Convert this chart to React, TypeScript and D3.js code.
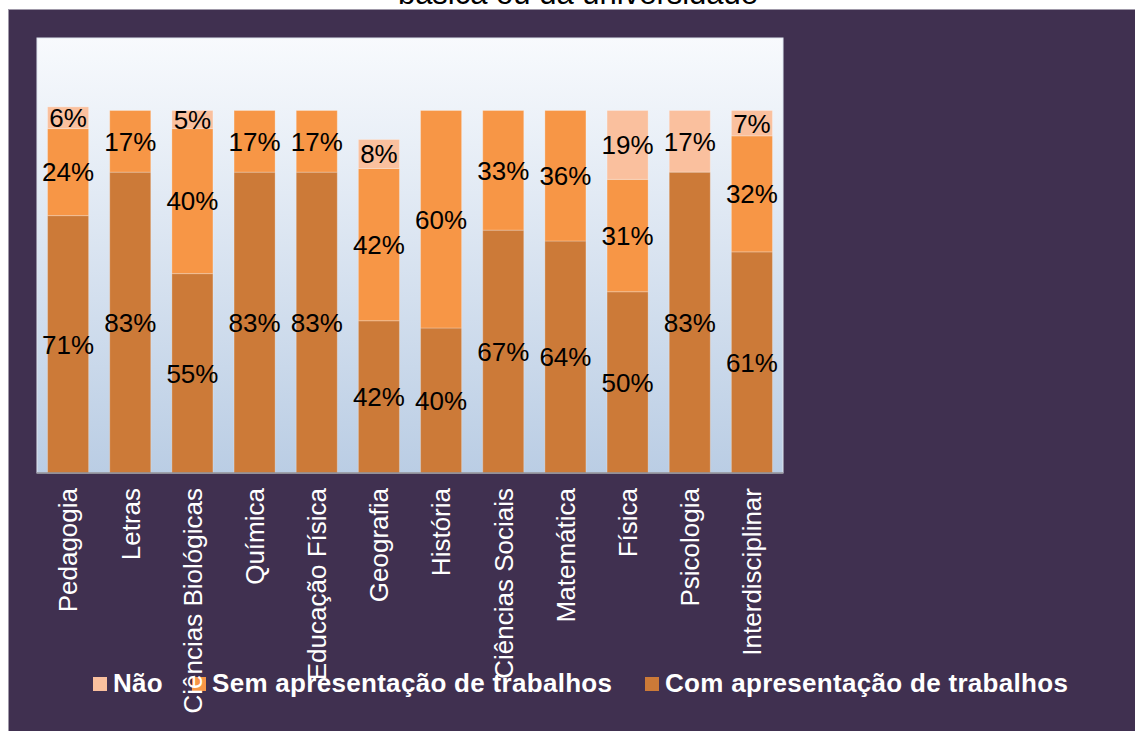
import React from "react";
import * as d3 from "d3";

// data
const categories = [
  "Pedagogia", "Letras", "Ciências Biológicas", "Química", "Educação Física", "Geografia",
  "História", "Ciências Sociais", "Matemática", "Física", "Psicologia", "Interdisciplinar",
];
const comValues = [71, 83, 55, 83, 83, 42, 40, 67, 64, 50, 83, 61];
const semValues = [24, 17, 40, 17, 17, 42, 60, 33, 36, 31, 0, 32];
const naoValues = [6, 0, 5, 0, 0, 8, 0, 0, 0, 19, 17, 7];
const seriesKeys = ["com", "sem", "nao"];
const seriesNames = ["Com apresentação de trabalhos", "Sem apresentação de trabalhos", "Não"];
const seriesColors = ["#CC7A38", "#F79646", "#FAC09E"];
const legendOrder = [2, 1, 0];
const legendX = [93, 192, 645];
const titleText = "básica ou da universidade";

const W = 1135;
const H = 731;
const plot = { left: 37, right: 783, top: 38, bottom: 473 };
const FONT = "'Liberation Sans', Arial, sans-serif";

export default function App() {
  const rows = categories.map((c, i) => ({
    cat: c, com: comValues[i], sem: semValues[i], nao: naoValues[i],
  }));
  const stacked = d3.stack<any>().keys(seriesKeys)(rows);

  const x = d3.scaleBand()
    .domain(categories)
    .range([plot.left, plot.right])
    .paddingInner(0.34)
    .paddingOuter(0.17);
  const y = d3.scaleLinear().domain([0, 120]).range([plot.bottom, plot.top]);

  return (
    <svg width={W} height={H} style={{ position: "absolute", left: 0, top: 0, background: "#fff" }}
      fontFamily={FONT}>
      <defs>
        <linearGradient id="plotBg" x1="0" y1="0" x2="0" y2="1">
          <stop offset="0" stopColor="#F8FAFD" />
          <stop offset="1" stopColor="#BACDE4" />
        </linearGradient>
      </defs>
      <text x={578} y={4} textAnchor="middle" fontSize={31} fill="#000">{titleText}</text>
      <rect x={8.5} y={9.5} width={W} height={H} fill="#403050" stroke="#9f98a8" strokeWidth={1} />
      <rect x={plot.left} y={plot.top} width={plot.right - plot.left} height={plot.bottom - plot.top}
        fill="url(#plotBg)" stroke="#dfe6f0" strokeWidth={1} />

      {stacked.map((s, si) => (
        <g key={s.key}>
          {s.map((d, i) => (d[1] - d[0] > 0 ? (
            <rect key={i} x={x(categories[i])} y={y(d[1])} width={x.bandwidth()}
              height={y(d[0]) - y(d[1])} fill={seriesColors[si]}
              stroke="rgba(255,255,255,0.25)" strokeWidth={1} />
          ) : null))}
        </g>
      ))}

      <line x1={plot.left} x2={plot.right} y1={plot.bottom} y2={plot.bottom} stroke="#8e8e96" strokeWidth={1.5} />

      {stacked.map((s) => (
        <g key={"l" + s.key}>
          {s.map((d, i) => (d[1] - d[0] > 0 ? (
            <text key={i} x={(x(categories[i]) as number) + x.bandwidth() / 2}
              y={y((d[0] + d[1]) / 2)} dy="0.36em" textAnchor="middle" fontSize={26} fill="#000">
              {`${d[1] - d[0]}%`}
            </text>
          ) : null))}
        </g>
      ))}

      {legendOrder.map((si, k) => (
        <g key={"lg" + si}>
          <rect x={legendX[k]} y={677} width={14} height={14} fill={seriesColors[si]} />
          <text x={legendX[k] + 20} y={692} fontSize={26} fontWeight="bold" letterSpacing={0.3}
            fill="#fff">{seriesNames[si]}</text>
        </g>
      ))}

      {categories.map((c) => {
        const cx = (x(c) as number) + x.bandwidth() / 2;
        return (
          <text key={c} transform={`translate(${cx},488) rotate(-90)`} textAnchor="end" dy="0.36em"
            fontSize={26} fill="#fff">{c}</text>
        );
      })}
    </svg>
  );
}
